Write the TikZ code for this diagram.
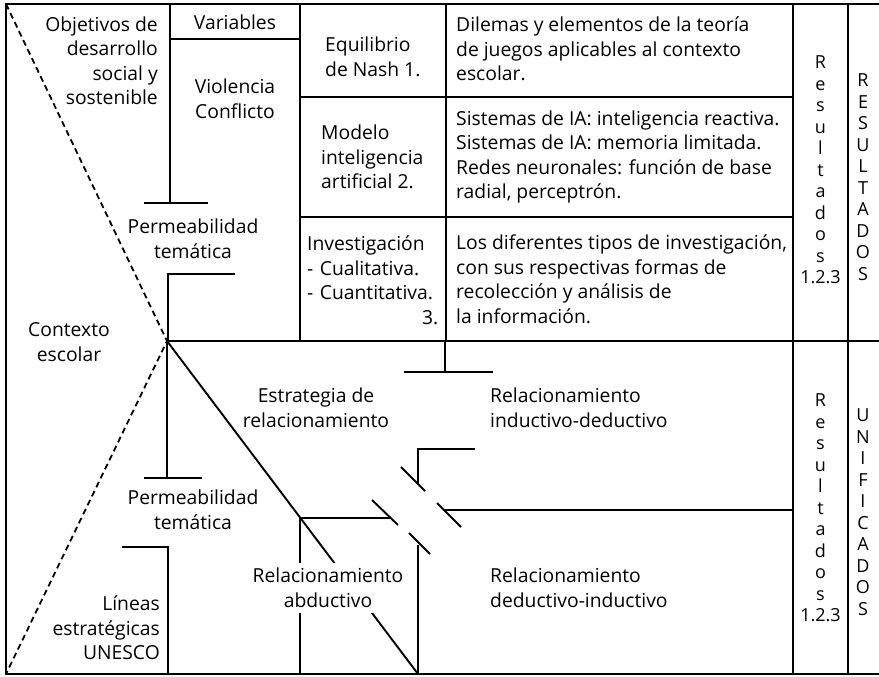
\documentclass[tikz,border=0pt]{standalone}
\usepackage{fontspec}
\setmainfont{Open Sans}
\tikzset{
    ln/.style={line width=1.9pt},
    dsh/.style={line width=1.8pt, dash pattern=on 6pt off 4pt},
    lbl/.style={inner sep=0pt, align=center, font=\fontsize{19.3}{24.5}\selectfont},
    vlbl/.style={inner sep=0pt, align=center, font=\fontsize{18}{21.5}\selectfont}
}

\begin{document}
\begin{tikzpicture}[x=1pt,y=-1pt]
    \useasboundingbox (0,0) rectangle (879,677);

    % frame and the two dashed sides
    \coordinate (tl) at (6,4);
    \coordinate (tr) at (879,4);
    \coordinate (bl) at (6,674);
    \coordinate (br) at (879,674);
    \coordinate (apex) at (167,341);
    \coordinate (mr) at (879,341);
    \draw[ln] (tr) -- (tl) -- (bl) -- (br);
    \draw[dsh] (tl) -- (apex) -- (bl);
    \draw[ln] (apex) -- (mr);

    % table grid
    \foreach \x/\yb in {300/341, 446/341, 793/674, 848/674}
        \draw[ln] (\x,4) -- (\x,\yb);
    \foreach \y in {97, 217}
        \draw[ln] (300,\y) -- (793,\y);
    \draw[ln] (170,39) -- (300,39);

    % upper branch
    \coordinate (vtop) at (170,4);
    \coordinate (vbar) at (170,203);
    \draw[ln] (vtop) -- (vbar);
    \draw[ln] (144,203) -- (208,203);
    \coordinate (ph1) at (235,274);
    \coordinate (pc1) at (168,274);
    \coordinate (pb1) at (168,341);
    \draw[ln] (ph1) -- (pc1) -- (pb1);

    % lower branch
    \coordinate (lbar) at (167,478);
    \draw[ln] (apex) -- (lbar);
    \draw[ln] (144,478) -- (202,478);
    \coordinate (ph2) at (122,547);
    \coordinate (pc2) at (168,547);
    \coordinate (pb2) at (168,674);
    \draw[ln] (ph2) -- (pc2) -- (pb2);

    % strategy lines
    \coordinate (dend) at (418,674);
    \draw[ln] (apex) -- (dend);
    \coordinate (ab1) at (300,674);
    \coordinate (ab2) at (300,518);
    \coordinate (ab3) at (391,518);
    \draw[ln] (ab1) -- (ab2) -- (ab3);
    \coordinate (tt1) at (445,341);
    \coordinate (tt2) at (445,372);
    \draw[ln] (tt1) -- (tt2);
    \draw[ln] (404,372) -- (493,372);
    \coordinate (id1) at (475,449);
    \coordinate (id2) at (418,449);
    \coordinate (id3) at (418,484);
    \draw[ln] (id1) -- (id2) -- (id3);
    \coordinate (di1) at (418,545);
    \draw[ln] (di1) -- (dend);
    \coordinate (hr1) at (444,510);
    \coordinate (hr2) at (793,510);
    \draw[ln] (hr1) -- (hr2);
    % break marks
    \draw[ln] (401,467) -- (425,491);
    \draw[ln] (437,503) -- (461,527);
    \draw[ln] (372,500) -- (398,525);
    \draw[ln] (409,533) -- (430,554);

    % labels
    \node[lbl, align=right, anchor=east] (obj) at (158,61) {Objetivos de\\desarrollo\\social y\\sostenible};
    \node[lbl] (var) at (235,22) {Variables};
    \node[lbl] (viol) at (235,99) {Violencia\\Conflicto};
    \node[lbl] (perm1) at (193,239) {Permeabilidad\\temática};
    \node[lbl] (ctx) at (69,342) {Contexto\\escolar};
    \node[lbl, align=left, anchor=west] (nash) at (325,57) {Equilibrio\\de Nash 1.};
    \node[lbl, align=left, anchor=west] (ia) at (321,157) {Modelo\\inteligencia\\artificial 2.};
    \node[lbl, align=left, anchor=west, text width=131pt] (inv) at (307,280) {Investigación\\- Cualitativa.\\- Cuantitativa.\\\hfill 3.};
    \node[lbl, align=left, anchor=west] (d1) at (456,49) {Dilemas y elementos de la teoría\\de juegos aplicables al contexto\\escolar.};
    \node[lbl, align=left, anchor=west] (d2) at (456,157) {Sistemas de IA: inteligencia reactiva.\\Sistemas de IA: memoria limitada.\\Redes neuronales: función de base\\radial, perceptrón.};
    \node[lbl, align=left, anchor=west] (d3) at (456,279) {Los diferentes tipos de investigación,\\con sus respectivas formas de\\recolección y análisis de\\la información.};
    \node[vlbl] (res1) at (820.5,170) {R\\e\\s\\u\\l\\t\\a\\d\\o\\s\\1.2.3};
    \node[vlbl] (res2) at (863,177) {R\\E\\S\\U\\L\\T\\A\\D\\O\\S};
    \node[lbl] (estr) at (316,408) {Estrategia de\\relacionamiento};
    \node[lbl, align=left, anchor=west] (indd) at (490,408) {Relacionamiento\\inductivo-deductivo};
    \node[lbl] (perm2) at (193,510) {Permeabilidad\\temática};
    \node[lbl, align=right, anchor=east] (lin) at (160,628) {Líneas\\estratégicas\\UNESCO};
    \node[lbl, fill=white, inner sep=5pt] (abd) at (328,588) {Relacionamiento\\abductivo};
    \node[lbl, align=left, anchor=west] (dedi) at (490,588) {Relacionamiento\\deductivo-inductivo};
    \node[vlbl] (res3) at (820.5,508) {R\\e\\s\\u\\l\\t\\a\\d\\o\\s\\1.2.3};
    \node[vlbl] (unif) at (863,512) {U\\N\\I\\F\\I\\C\\A\\D\\O\\S};
\end{tikzpicture}
\end{document}
